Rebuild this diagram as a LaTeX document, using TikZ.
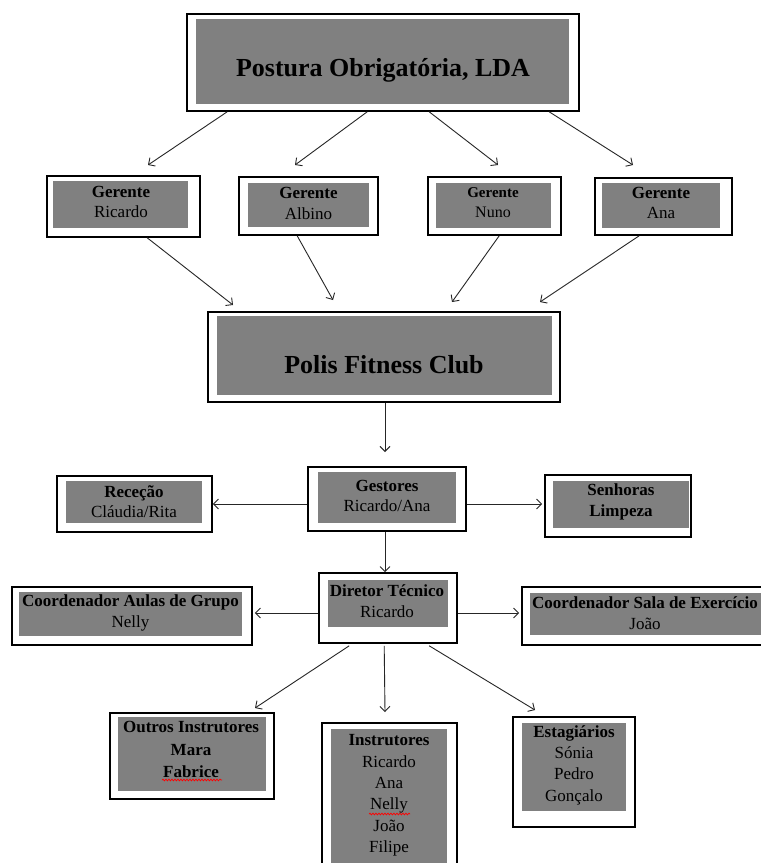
\documentclass[tikz,border=0pt]{standalone}
\usepackage{fontspec}
\setmainfont{Liberation Serif}
\usetikzlibrary{arrows.meta,calc,decorations.pathmorphing}
\definecolor{boxgray}{HTML}{808080}
\newcommand\orgbox[9]{%
  \node[outerbox, minimum width={#4pt-#2pt}, minimum height={#5pt-#3pt}] (#1) at ({(#2+#4)/2},{(#3+#5)/2}) {};
  \node[innerbox, minimum width={#8pt-#6pt}, minimum height={#9pt-#7pt}] (#1-in) at ({(#6+#8)/2},{(#7+#9)/2}) {};
}
\tikzset{
  outerbox/.style={draw=black, line width=1.6pt, fill=white, inner sep=0pt},
  innerbox/.style={fill=boxgray, draw=none, inner sep=0pt},
  lbl/.style={align=center, inner sep=0pt, text=black, font=\fontsize{17}{20.5}\selectfont},
  biglbl/.style={align=center, inner sep=0pt, text=black, font=\fontsize{26}{30}\selectfont\bfseries},
  arr/.style={draw=black!85, line width=0.9pt, -{Straight Barb[length=5pt,width=10pt]}},
  squiggle/.style={draw=red, line width=0.7pt, decorate, decoration={snake, amplitude=0.9pt, segment length=3pt}}
}
\begin{document}
\begin{tikzpicture}[x=1pt,y=-1pt]
\useasboundingbox (0,0) rectangle (761,863);
\clip (0,0) rectangle (761,863);
\fill[white] (0,0) rectangle (761,863);

% boxes
\orgbox{top}{187}{14}{579}{111}{196}{19}{569}{104}
\orgbox{g1}{47}{176}{200}{237}{53}{181}{188}{228}
\orgbox{g2}{239}{177}{378}{235}{248}{183}{369}{227}
\orgbox{g3}{428}{177}{561}{235}{436}{183}{551}{228}
\orgbox{g4}{595}{178}{732}{235}{602}{183}{720}{228}
\orgbox{polis}{208}{312}{560}{402}{217}{316}{552}{395}
\orgbox{gest}{308}{467}{466}{531}{318}{472}{456}{523}
\orgbox{rec}{57}{476}{212}{532}{66}{481}{202}{523}
\orgbox{sen}{545}{475}{691}{537}{553}{481}{689}{528}
\orgbox{dir}{319}{573}{457}{643}{328}{580}{448}{627}
\orgbox{aulas}{12}{587}{252}{645}{19}{592}{242}{636}
\orgbox{sala}{522}{587}{770}{645}{530}{593}{761}{635}
\orgbox{outros}{110}{713}{274}{799}{118}{717}{266}{791}
\orgbox{instr}{322}{723}{457}{890}{331}{729}{447}{890}
\orgbox{estag}{513}{717}{635}{827}{522}{723}{626}{811}

% texts
\node[biglbl] (top-tx) at (383,70) {Postura Obrigatória, LDA};
\node[biglbl] (polis-tx) at (384,365) {Polis Fitness Club};
\node[lbl] (g1-tx) at (121,202) {\textbf{Gerente}\\Ricardo};
\node[lbl] (g2-tx) at (308.5,203.5) {\textbf{Gerente}\\Albino};
\node[lbl] (g3-tx) at (493,202.5) {{\fontsize{15}{20.5}\selectfont\textbf{Gerente}}\\{\fontsize{16}{20.5}\selectfont Nuno}};
\node[lbl] (g4-tx) at (661,203) {\textbf{Gerente}\\Ana};
\node[lbl] (rec-tx) at (134,501.5) {\textbf{Receção}\\Cláudia/Rita};
\node[lbl] (gest-tx) at (387,496) {\textbf{Gestores}\\Ricardo/Ana};
\node[lbl] (sen-tx) at (621,502) {\textbf{Senhoras}\\\textbf{Limpeza}};
\node[lbl] (dir-tx) at (387,601) {\textbf{Diretor Técnico}\\Ricardo};
\node[lbl] (aulas-tx) at (130.5,613) {\textbf{Coordenador Aulas de Grupo}\\Nelly};
\node[lbl] (sala-tx) at (645,613) {\textbf{Coordenador Sala de Exercício}\\João};
\node[lbl, font=\fontsize{17}{22.5}\selectfont] (outros-tx) at (191,749.5) {\textbf{Outros Instrutores}\\\textbf{Mara}\\\textbf{Fabrice}};
\node[lbl, font=\fontsize{17}{21.4}\selectfont] (instr-tx) at (389,795.5) {\textbf{Instrutores}\\Ricardo\\Ana\\Nelly\\João\\Filipe};
\node[lbl, font=\fontsize{17}{21.3}\selectfont] (estag-tx) at (574,765) {\textbf{Estagiários}\\Sónia\\Pedro\\Gonçalo};

% spell-check underlines
\draw[squiggle] (162,780) -- (222,780);
\draw[squiggle] (369,814) -- (410,814);

% free arrow ends
\coordinate (e1) at (148,165);
\coordinate (e2) at (295,165);
\coordinate (e3) at (498,165);
\coordinate (e4) at (633,165);
\coordinate (f1) at (233,305);
\coordinate (f2) at (333,300);
\coordinate (f3) at (452,302);
\coordinate (f4) at (540,302);
\coordinate (p1) at (385,452);
\coordinate (ly) at (0,613);
\coordinate (d1) at (255,708);
\coordinate (d2) at (385,712);
\coordinate (d3) at (535,710);

% arrows
\draw[arr] ($(top.south west)+(41,0)$) -- (e1);
\draw[arr] ($(top.south west)+(181,0)$) -- (e2);
\draw[arr] ($(top.south west)+(243,0)$) -- (e3);
\draw[arr] ($(top.south west)+(363,0)$) -- (e4);
\draw[arr] ($(g1.south west)+(101,0)$) -- (f1);
\draw[arr] ($(g2.south west)+(59,0)$) -- (f2);
\draw[arr] ($(g3.south west)+(72,0)$) -- (f3);
\draw[arr] ($(g4.south west)+(45,0)$) -- (f4);
\draw[arr] (polis.south -| p1) -- (p1);
\draw[arr] (gest.west |- rec.east) -- (rec.east);
\draw[arr] (gest.east |- rec.east) -- ([xshift=-2pt]sen.west |- rec.east);
\draw[arr] (gest.south -| p1) -- (dir.north -| p1);
\draw[arr] (dir.west |- ly) -- ([xshift=2pt]aulas.east |- ly);
\draw[arr] (dir.east |- ly) -- ([xshift=-2pt]sala.west |- ly);
\draw[arr] ($(dir.south west)+(31,2)$) -- (d1);
\draw[arr] ($(dir.south west)+(66,2)$) -- (d2);
\draw[arr] ($(dir.south west)+(111,2)$) -- (d3);
\end{tikzpicture}
\end{document}
